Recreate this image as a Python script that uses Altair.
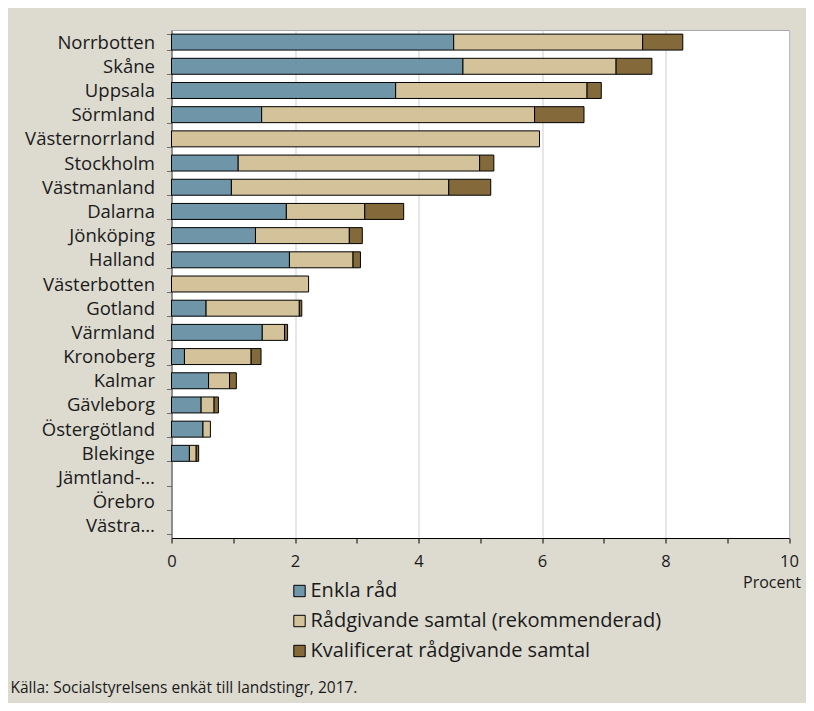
import altair as alt
import pandas as pd

regions = ["Norrbotten", "Skåne", "Uppsala", "Sörmland", "Västernorrland", "Stockholm",
           "Västmanland", "Dalarna", "Jönköping", "Halland", "Västerbotten", "Gotland",
           "Värmland", "Kronoberg", "Kalmar", "Gävleborg", "Östergötland", "Blekinge",
           "Jämtland-…", "Örebro", "Västra…"]
enkla = [4.57, 4.72, 3.63, 1.46, 0.0, 1.08, 0.97, 1.86, 1.36, 1.91, 0.0, 0.56,
         1.47, 0.21, 0.60, 0.48, 0.51, 0.29, 0.0, 0.0, 0.0]
radgivande = [3.06, 2.48, 3.10, 4.42, 5.96, 3.91, 3.52, 1.27, 1.52, 1.03, 2.22, 1.51,
              0.36, 1.08, 0.34, 0.21, 0.12, 0.11, 0.0, 0.0, 0.0]
kvalificerat = [0.65, 0.58, 0.23, 0.80, 0.0, 0.23, 0.68, 0.63, 0.21, 0.12, 0.0, 0.04,
                0.05, 0.16, 0.11, 0.07, 0.0, 0.04, 0.0, 0.0, 0.0]
series = ["Enkla råd", "Rådgivande samtal (rekommenderad)", "Kvalificerat rådgivande samtal"]
colors = ["#6E95A8", "#D4C29B", "#846A3A"]
source = "Källa: Socialstyrelsens enkät till landstingr, 2017."

rows = []
for i, r in enumerate(regions):
    for k, vals in enumerate([enkla, radgivande, kvalificerat]):
        rows.append({"region": r, "serie": series[k], "ord": k, "value": vals[i]})
df = pd.DataFrame(rows)

FONT = "Open Sans"

bars = alt.Chart(df).transform_filter("datum.value > 0").mark_bar(stroke="black", strokeWidth=1).encode(
    y=alt.Y("region:N", sort=regions, title=None,
            scale=alt.Scale(domain=regions, paddingInner=0.34, paddingOuter=0.17),
            axis=alt.Axis(tickBand="extent", tickSize=5, tickColor="#707070",
                          domainColor="#505050", labelPadding=12, labelFontSize=18.5,
                          labelColor="#1a1a1a", labelFont=FONT, labelLimit=200)),
    x=alt.X("value:Q", stack="zero", title="Procent",
            scale=alt.Scale(domain=[0, 10], nice=False),
            axis=alt.Axis(values=list(range(11)), tickSize=5, tickColor="black",
                          domainColor="black", labelExpr="datum.value % 2 == 0 ? datum.label : ''",
                          labelFlush=False,
                          labelFontSize=16.5, labelColor="#1a1a1a", labelFont=FONT, labelPadding=10,
                          grid=True, gridColor="#CFCFCF",
                          gridOpacity={"condition": {"test": "datum.value % 2 == 0", "value": 1}, "value": 0},
                          titleFont=FONT, titleFontSize=16, titleFontWeight="normal",
                          titleColor="#1a1a1a", titleAlign="right", titleAnchor="end",
                          titleX=629, titleY=36)),
    color=alt.Color("serie:N", sort=series,
                    scale=alt.Scale(domain=series, range=colors),
                    legend=alt.Legend(title=None, orient="none", legendX=118, legendY=551,
                                      symbolType="square", symbolSize=130,
                                      symbolStrokeColor="black", symbolStrokeWidth=1,
                                      labelFontSize=20, labelFont=FONT, labelColor="#1a1a1a",
                                      rowPadding=10, labelLimit=500, labelOffset=1)),
    order=alt.Order("ord:Q"),
)

src = alt.Chart(alt.Data(values=[{}])).mark_text(
    align="left", baseline="middle", fontSize=15.5, font=FONT, color="#1a1a1a"
).encode(x=alt.value(-161), y=alt.value(658), text=alt.value(source))

chart = alt.layer(bars, src).properties(
    width=617.5, height=508,
    autosize=alt.AutoSizeParams(type="none"),
    padding={"left": 163.5, "top": 22, "right": 17, "bottom": 165},
    background="#DDDAD0",
).configure_view(fill="white", stroke="#A8A8A8", strokeWidth=1)

chart.save("out.html", embed_options={"renderer": "svg", "actions": False})
